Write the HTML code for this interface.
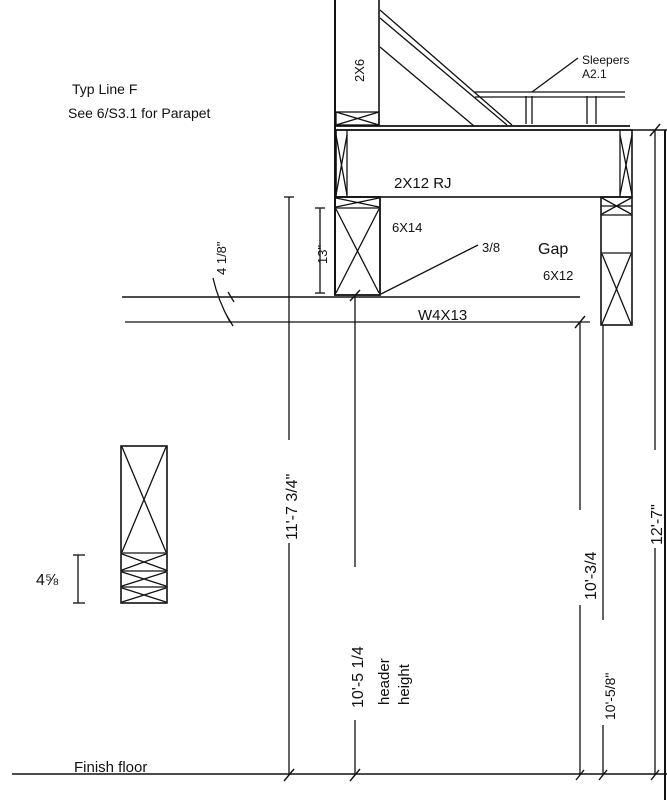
<!DOCTYPE html>
<html><head><meta charset="utf-8"><style>
html,body{margin:0;padding:0;background:#fff;}
svg{display:block;}
text{font-family:"Liberation Sans",sans-serif;fill:#111;}
</style></head><body>
<svg width="667" height="800" viewBox="0 0 667 800" xmlns="http://www.w3.org/2000/svg" stroke="#111" fill="none" stroke-width="1.3">
<!-- notes -->
<text x="72" y="94" font-size="14" stroke="none">Typ Line F</text>
<text x="68" y="118" font-size="14" stroke="none">See 6/S3.1  for Parapet</text>
<!-- 2x6 stud -->
<line x1="335" y1="0" x2="335" y2="295" stroke-width="2"/>
<line x1="379" y1="0" x2="379" y2="125" stroke-width="1.6"/>
<text transform="translate(364,82) rotate(-90)" font-size="13" stroke="none">2X6</text>
<rect x="336" y="112" width="43" height="13"/>
<line x1="336" y1="112" x2="379" y2="125"/><line x1="336" y1="125" x2="379" y2="112"/>
<!-- diagonals -->
<line x1="380" y1="10" x2="512" y2="125"/>
<line x1="380" y1="18" x2="507" y2="125"/>
<line x1="380" y1="47" x2="474" y2="126"/>
<!-- sleepers -->
<line x1="475" y1="92" x2="625" y2="92"/>
<line x1="475" y1="97" x2="625" y2="97"/>
<line x1="526" y1="96" x2="526" y2="124"/><line x1="532" y1="96" x2="532" y2="124"/>
<line x1="587" y1="96" x2="587" y2="124"/><line x1="596" y1="96" x2="596" y2="124"/>
<line x1="532" y1="92" x2="578" y2="58"/>
<text x="582" y="64" font-size="12" stroke="none">Sleepers</text>
<text x="582" y="78" font-size="12" stroke="none">A2.1</text>
<!-- top plate -->
<line x1="336" y1="126" x2="630" y2="126" stroke-width="1.8"/>
<line x1="336" y1="130" x2="667" y2="130" stroke-width="1.6"/>
<!-- 2x12 RJ -->
<rect x="336" y="130" width="296" height="67" stroke-width="1.6"/>
<line x1="347" y1="130" x2="347" y2="197"/>
<line x1="620" y1="130" x2="620" y2="197"/>
<line x1="336" y1="135" x2="347" y2="195"/><line x1="347" y1="135" x2="336" y2="195"/>
<line x1="620" y1="135" x2="632" y2="195"/><line x1="632" y1="135" x2="620" y2="195"/>
<text x="394" y="188" font-size="15" stroke="none">2X12 RJ</text>
<!-- 6x14 -->
<rect x="335" y="197" width="45" height="98" stroke-width="1.8"/>
<line x1="335" y1="208" x2="380" y2="208"/>
<line x1="336" y1="198" x2="379" y2="207"/><line x1="336" y1="207" x2="379" y2="198"/>
<line x1="336" y1="209" x2="379" y2="293"/><line x1="379" y1="209" x2="336" y2="293"/>
<text x="392" y="232" font-size="13" stroke="none">6X14</text>
<line x1="381" y1="294" x2="478" y2="245"/>
<text x="482" y="252" font-size="13" stroke="none">3/8</text>
<text x="538" y="254" font-size="16" stroke="none">Gap</text>
<text x="543" y="280" font-size="13" stroke="none">6X12</text>
<!-- right post -->
<rect x="601" y="197" width="31" height="128" stroke-width="1.6"/>
<line x1="601" y1="206" x2="632" y2="206"/><line x1="601" y1="215" x2="632" y2="215"/>
<line x1="602" y1="198" x2="631" y2="214"/><line x1="602" y1="214" x2="631" y2="198"/>
<line x1="601" y1="253" x2="632" y2="253"/>
<line x1="602" y1="254" x2="631" y2="324"/><line x1="631" y1="254" x2="602" y2="324"/>
<!-- W4x13 -->
<line x1="122" y1="297" x2="580" y2="297" stroke-width="1.6"/>
<line x1="125" y1="322" x2="590" y2="322"/>
<text x="418" y="320" font-size="15" stroke="none">W4X13</text>
<!-- 13" -->
<line x1="320" y1="208" x2="320" y2="293"/>
<line x1="315" y1="208" x2="325" y2="208"/><line x1="315" y1="293" x2="325" y2="293"/>
<text transform="translate(327,264) rotate(-90)" font-size="13" stroke="none">13"</text>
<!-- 4 1/8 -->
<path d="M213 278 Q218 300 230 322"/>
<line x1="228" y1="292" x2="234" y2="302"/><line x1="227" y1="316" x2="233" y2="326"/>
<text transform="translate(226,275) rotate(-90)" font-size="13" stroke="none">4 1/8"</text>
<!-- dimension lines -->
<line x1="289" y1="197" x2="289" y2="440"/><line x1="289" y1="543" x2="289" y2="775"/>
<line x1="284" y1="197" x2="294" y2="197"/>
<text transform="translate(297,540) rotate(-90)" font-size="16" stroke="none">11'-7 3/4"</text>
<line x1="355" y1="295" x2="355" y2="567"/><line x1="355" y1="720" x2="355" y2="775"/>
<text transform="translate(363,708) rotate(-90)" font-size="16" stroke="none">10'-5 1/4</text>
<text transform="translate(389,705) rotate(-90)" font-size="15" stroke="none">header</text>
<text transform="translate(409,705) rotate(-90)" font-size="15" stroke="none">height</text>
<line x1="580" y1="322" x2="580" y2="510"/><line x1="580" y1="605" x2="580" y2="775"/>
<text transform="translate(596,600) rotate(-90)" font-size="16" stroke="none">10'-3/4</text>
<line x1="603" y1="325" x2="603" y2="620"/><line x1="603" y1="725" x2="603" y2="775"/>
<text transform="translate(615,720) rotate(-90)" font-size="14" stroke="none">10'-5/8"</text>
<line x1="655" y1="130" x2="655" y2="450"/><line x1="655" y1="548" x2="655" y2="775"/>
<text transform="translate(662,545) rotate(-90)" font-size="16" stroke="none">12'-7"</text>
<line x1="665" y1="130" x2="665" y2="800" stroke-width="2"/>
<!-- ticks -->
<g stroke-width="1.4">
<line x1="284" y1="781" x2="294" y2="769"/><line x1="350" y1="781" x2="360" y2="769"/>
<line x1="576" y1="780" x2="584" y2="770"/><line x1="599" y1="780" x2="607" y2="770"/>
<line x1="651" y1="780" x2="659" y2="770"/><line x1="650" y1="136" x2="660" y2="124"/>
<line x1="350" y1="301" x2="360" y2="290"/><line x1="575" y1="328" x2="585" y2="316"/>
</g>
<!-- floor -->
<line x1="12" y1="774" x2="667" y2="774" stroke-width="1.6"/>
<text x="74" y="772" font-size="15" stroke="none">Finish  floor</text>
<!-- small post -->
<rect x="121" y="446" width="46" height="157" stroke-width="1.6"/>
<line x1="121" y1="553" x2="167" y2="553"/>
<line x1="122" y1="447" x2="166" y2="552"/><line x1="166" y1="447" x2="122" y2="552"/>
<line x1="121" y1="571" x2="167" y2="571"/><line x1="121" y1="587" x2="167" y2="587"/>
<line x1="122" y1="554" x2="166" y2="570"/><line x1="122" y1="570" x2="166" y2="554"/>
<line x1="122" y1="572" x2="166" y2="586"/><line x1="122" y1="586" x2="166" y2="572"/>
<line x1="122" y1="588" x2="166" y2="602"/><line x1="122" y1="602" x2="166" y2="588"/>
<line x1="78" y1="555" x2="78" y2="603"/>
<line x1="73" y1="555" x2="85" y2="555"/><line x1="73" y1="603" x2="85" y2="603"/>
<text x="36" y="585" font-size="16" stroke="none">4⅝</text>
</svg>
</body></html>
